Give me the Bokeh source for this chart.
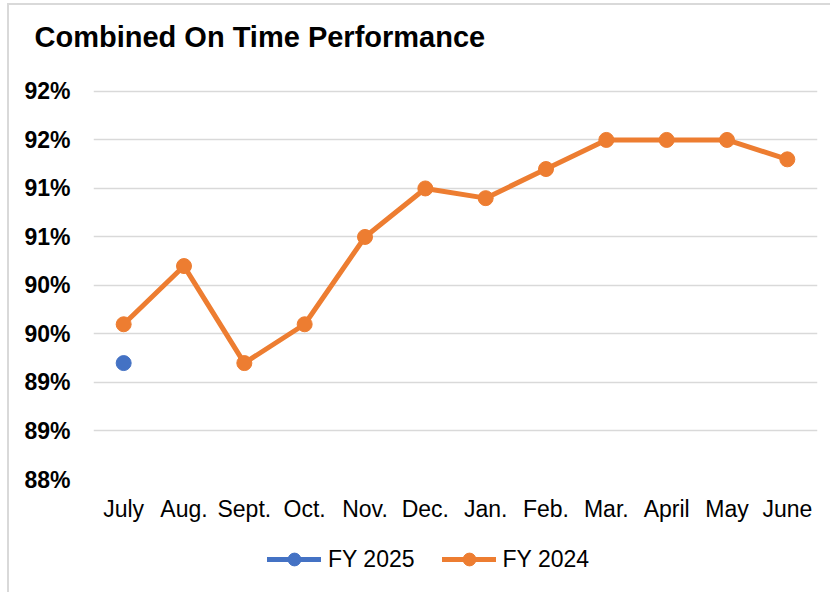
from bokeh.plotting import figure
from bokeh.layouts import column
from bokeh.models import Range1d, FixedTicker, Legend, LegendItem, ColumnDataSource
from bokeh.embed import file_html
from bokeh.resources import INLINE

months = ["July", "Aug.", "Sept.", "Oct.", "Nov.", "Dec.", "Jan.", "Feb.", "Mar.", "April", "May", "June"]
fy2024 = [89.6, 90.2, 89.2, 89.6, 90.5, 91.0, 90.9, 91.2, 91.5, 91.5, 91.5, 91.3]
fy2025_months = ["July"]
fy2025 = [89.2]
y_ticks = [88, 88.5, 89, 89.5, 90, 90.5, 91, 91.5, 92]
y_labels = ["88%", "89%", "89%", "90%", "90%", "91%", "91%", "92%", "92%"]

FONT = "Liberation Sans"
ORANGE = "#ED7D31"
BLUE = "#4472C4"
GRID = "#d9d9d9"
LW = 5
MS = 15

bg_top = ("linear-gradient(#d9d9d9,#d9d9d9) 7px 3px / 2px 600px no-repeat, "
          "linear-gradient(#d9d9d9,#d9d9d9) 7px 3px / 830px 2px no-repeat, white")
bg_bottom = "linear-gradient(#d9d9d9,#d9d9d9) 7px 0px / 2px 600px no-repeat, white"

p = figure(x_range=months, y_range=Range1d(88, 92.36), width=830, height=530,
           output_backend="svg", toolbar_location=None,
           min_border_left=93, min_border_right=13, min_border_top=56, min_border_bottom=51,
           styles={"background": bg_top})
p.outline_line_color = None
p.border_fill_color = None
p.background_fill_color = "white"

p.title.text = "Combined On Time Performance"
p.title.text_font = FONT
p.title.text_font_size = "29px"
p.title.text_font_style = "bold"
p.title.text_color = "black"
p.title.offset = -59
p.title.standoff = 8

# axes
p.yaxis.ticker = FixedTicker(ticks=y_ticks)
p.yaxis.major_label_overrides = {t: l for t, l in zip(y_ticks, y_labels)}
p.yaxis.major_label_text_font = FONT
p.yaxis.major_label_text_font_size = "23px"
p.yaxis.major_label_text_font_style = "bold"
p.yaxis.major_label_text_color = "black"
p.yaxis.major_label_standoff = 17
p.yaxis.axis_line_color = None
p.yaxis.major_tick_line_color = None
p.yaxis.minor_tick_line_color = None

p.xaxis.major_label_text_font = FONT
p.xaxis.major_label_text_font_size = "23px"
p.xaxis.major_label_text_color = "black"
p.xaxis.major_label_standoff = 10
p.xaxis.axis_line_color = None
p.xaxis.major_tick_line_color = None

p.xgrid.grid_line_color = None
p.ygrid.grid_line_color = GRID
p.ygrid.grid_line_width = 1.6

src24 = ColumnDataSource(dict(x=months, y=fy2024))
src25 = ColumnDataSource(dict(x=fy2025_months, y=fy2025))

p.line("x", "y", source=src24, line_color=ORANGE, line_width=LW, line_join="round")
p.scatter("x", "y", source=src24, size=MS, fill_color=ORANGE, line_color=ORANGE)
p.scatter("x", "y", source=src25, size=MS, fill_color=BLUE, line_color=BLUE)

# legend strip below the chart (same data, plotted out of view; only the legend shows)
q = figure(x_range=p.x_range, y_range=Range1d(0, 1), width=830, height=62,
           output_backend="svg", toolbar_location=None,
           min_border_left=93, min_border_right=13, min_border_top=0, min_border_bottom=0,
           styles={"background": bg_bottom})
q.axis.visible = False
q.grid.visible = False
q.outline_line_color = None
q.border_fill_color = None
q.background_fill_color = None

ql25 = q.line("x", "y", source=src25, line_color=BLUE, line_width=LW, line_cap="round")
qs25 = q.scatter("x", "y", source=src25, size=MS, fill_color=BLUE, line_color=BLUE)
ql24 = q.line("x", "y", source=src24, line_color=ORANGE, line_width=LW, line_cap="round")
qs24 = q.scatter("x", "y", source=src24, size=MS, fill_color=ORANGE, line_color=ORANGE)

legend = Legend(items=[LegendItem(label="FY 2025", renderers=[ql25, qs25], index=0),
                       LegendItem(label="FY 2024", renderers=[ql24, qs24], index=0)],
                orientation="horizontal", location=(174, 17),
                glyph_width=54, glyph_height=32, label_standoff=7, spacing=27,
                padding=0, margin=0, border_line_color=None, background_fill_alpha=0,
                label_text_font=FONT, label_text_font_size="23px", label_text_color="black")
q.add_layout(legend, "center")

layout = column(p, q, spacing=0)
open("out.html", "w").write(file_html(layout, INLINE))
